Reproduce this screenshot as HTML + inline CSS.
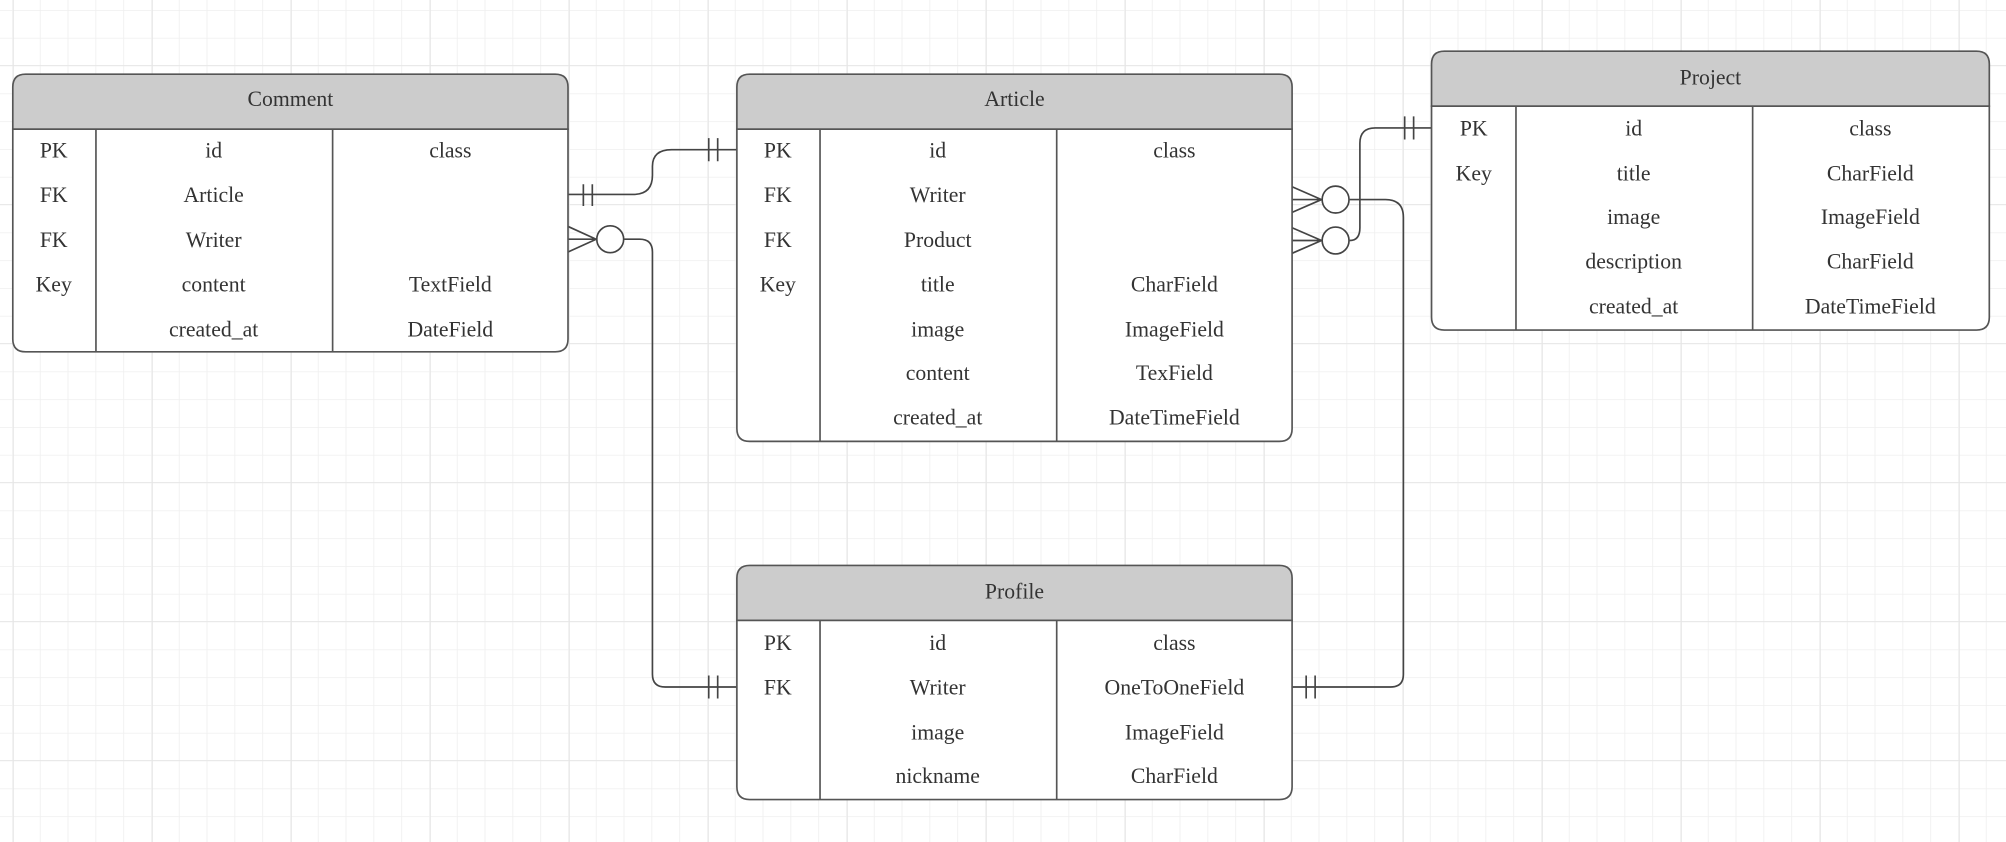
<!DOCTYPE html>
<html><head><meta charset="utf-8"><style>
html,body{margin:0;padding:0;background:#fff;}
svg{display:block;}
text{font-family:"Liberation Serif",serif;font-size:17px;fill:#333;text-anchor:middle;}
</style></head><body>
<svg width="2006" height="842" xmlns="http://www.w3.org/2000/svg">
<defs>
<pattern id="minor" x="12" y="10" width="27.8" height="27.8" patternUnits="userSpaceOnUse">
<path d="M0 0H27.8M0 0V27.8" stroke="#efefef" stroke-width="1.6" fill="none"/>
</pattern>
<pattern id="major" x="13" y="-74" width="139" height="139" patternUnits="userSpaceOnUse">
<path d="M0 0H139M0 0V139" stroke="#e6e6e6" stroke-width="1.6" fill="none"/>
</pattern>
</defs>
<rect width="2006" height="842" fill="#fff"/>
<rect width="2006" height="842" fill="url(#minor)"/>
<rect width="2006" height="842" fill="url(#major)"/>
<g transform="scale(1.2793)" stroke-width="1.3">
<g fill="none" stroke="#444">
<path d="M444 152 H495 Q510 152 510 137 V130 Q510 117 525 117 H576"/>
<path d="M456 144V161 M463 144V161"/>
<path d="M554 108V126 M561 108V126"/>
<path d="M444 187 H466 M444 177 L466 187 L444 197"/>
<circle cx="477" cy="187" r="10.5" fill="#fff"/>
<path d="M488 187 H500 Q510 187 510 197 V527 Q510 537 520 537 H576"/>
<path d="M554 528V546 M561 528V546"/>
<path d="M1010 156 H1033 M1010 146 L1033 156 L1010 166"/>
<circle cx="1044" cy="156" r="10.5" fill="#fff"/>
<path d="M1055 156 H1083 Q1097 156 1097 170 V527 Q1097 537 1087 537 H1010"/>
<path d="M1021 528V546 M1028 528V546"/>
<path d="M1010 188 H1033 M1010 178 L1033 188 L1010 198"/>
<circle cx="1044" cy="188" r="10.5" fill="#fff"/>
<path d="M1055 188 Q1063 188 1063 178 V112 Q1063 100 1075 100 H1119"/>
<path d="M1098 91V109 M1105 91V109"/>
</g>
<g>
<path d="M10 101 V68 Q10 58 20 58 H434 Q444 58 444 68 V101 Z" fill="#cccccc" stroke="#555"/>
<path d="M10 101 H444 V265 Q444 275 434 275 H20 Q10 275 10 265 Z" fill="#fff" stroke="#555"/>
<path d="M75 101V275 M260 101V275" stroke="#555"/>
<text x="227" y="83">Comment</text>
<text x="42" y="123">PK</text><text x="167" y="123">id</text><text x="352" y="123">class</text>
<text x="42" y="158">FK</text><text x="167" y="158">Article</text>
<text x="42" y="193">FK</text><text x="167" y="193">Writer</text>
<text x="42" y="228">Key</text><text x="167" y="228">content</text><text x="352" y="228">TextField</text>
<text x="167" y="263">created_at</text><text x="352" y="263">DateField</text>
</g>
<g>
<path d="M576 101 V68 Q576 58 586 58 H1000 Q1010 58 1010 68 V101 Z" fill="#cccccc" stroke="#555"/>
<path d="M576 101 H1010 V335 Q1010 345 1000 345 H586 Q576 345 576 335 Z" fill="#fff" stroke="#555"/>
<path d="M641 101V345 M826 101V345" stroke="#555"/>
<text x="793" y="83">Article</text>
<text x="608" y="123">PK</text><text x="733" y="123">id</text><text x="918" y="123">class</text>
<text x="608" y="158">FK</text><text x="733" y="158">Writer</text>
<text x="608" y="193">FK</text><text x="733" y="193">Product</text>
<text x="608" y="228">Key</text><text x="733" y="228">title</text><text x="918" y="228">CharField</text>
<text x="733" y="263">image</text><text x="918" y="263">ImageField</text>
<text x="733" y="297">content</text><text x="918" y="297">TexField</text>
<text x="733" y="332">created_at</text><text x="918" y="332">DateTimeField</text>
</g>
<g>
<path d="M1119 83 V50 Q1119 40 1129 40 H1545 Q1555 40 1555 50 V83 Z" fill="#cccccc" stroke="#555"/>
<path d="M1119 83 H1555 V248 Q1555 258 1545 258 H1129 Q1119 258 1119 248 Z" fill="#fff" stroke="#555"/>
<path d="M1185 83V258 M1370 83V258" stroke="#555"/>
<text x="1337" y="66">Project</text>
<text x="1152" y="106">PK</text><text x="1277" y="106">id</text><text x="1462" y="106">class</text>
<text x="1152" y="141">Key</text><text x="1277" y="141">title</text><text x="1462" y="141">CharField</text>
<text x="1277" y="175">image</text><text x="1462" y="175">ImageField</text>
<text x="1277" y="210">description</text><text x="1462" y="210">CharField</text>
<text x="1277" y="245">created_at</text><text x="1462" y="245">DateTimeField</text>
</g>
<g>
<path d="M576 485 V452 Q576 442 586 442 H1000 Q1010 442 1010 452 V485 Z" fill="#cccccc" stroke="#555"/>
<path d="M576 485 H1010 V615 Q1010 625 1000 625 H586 Q576 625 576 615 Z" fill="#fff" stroke="#555"/>
<path d="M641 485V625 M826 485V625" stroke="#555"/>
<text x="793" y="468">Profile</text>
<text x="608" y="508">PK</text><text x="733" y="508">id</text><text x="918" y="508">class</text>
<text x="608" y="543">FK</text><text x="733" y="543">Writer</text><text x="918" y="543">OneToOneField</text>
<text x="733" y="578">image</text><text x="918" y="578">ImageField</text>
<text x="733" y="612">nickname</text><text x="918" y="612">CharField</text>
</g>
</g>
</svg>
</body></html>
